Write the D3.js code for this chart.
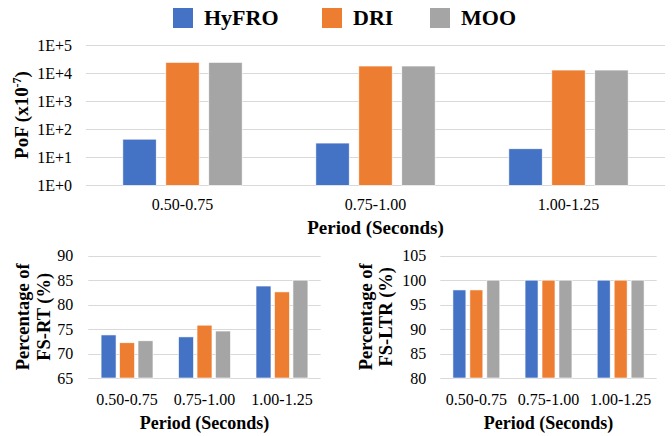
<!DOCTYPE html>
<html>
<head>
<meta charset="utf-8">
<script src="https://cdn.jsdelivr.net/npm/d3@7"></script>
<style>
  body { margin: 0; background: #fff; }
</style>
</head>
<body>
<svg id="chart" width="672" height="436"></svg>
<script>
const periods = ["0.50-0.75", "0.75-1.00", "1.00-1.25"];
const seriesNames = ["HyFRO", "DRI", "MOO"];
const colors = ["#4472c4", "#ed7d31", "#a5a5a5"];

// PoF (x10^-7), log scale
const pofHyFRO = [44, 32, 20];
const pofDRI = [24000, 17800, 12800];
const pofMOO = [24000, 17800, 12800];
const pofTicks = [1, 10, 100, 1000, 10000, 100000];

// Percentage of FS-RT
const rtHyFRO = [73.8, 73.4, 83.8];
const rtDRI = [72.2, 75.8, 82.6];
const rtMOO = [72.6, 74.6, 85.0];
const rtTicks = [65, 70, 75, 80, 85, 90];

// Percentage of FS-LTR
const ltrHyFRO = [98, 100, 100];
const ltrDRI = [98, 100, 100];
const ltrMOO = [100, 100, 100];
const ltrTicks = [80, 85, 90, 95, 100, 105];

const FONT = "'Liberation Serif', Tinos, 'Times New Roman', Times, 'DejaVu Serif', serif";
const svg = d3.select("#chart").attr("font-family", FONT);
const GRID = "#d9d9d9";

//legend
const legendX = [173, 322, 430];
seriesNames.forEach((s, i) => {
  svg.append("rect").attr("x", legendX[i]).attr("y", 8)
    .attr("width", 20).attr("height", 20).attr("fill", colors[i]);
  svg.append("text").attr("x", legendX[i] + 31).attr("y", 25)
    .attr("font-family", FONT)
    .attr("font-size", "22px").attr("font-weight", "bold").attr("fill", "#000")
    .text(s);
});

function barChart(cfg) {
  const data = cfg.series.map((vals, si) => vals.map((v, ci) => ({s: seriesNames[si], c: periods[ci], v: v, si: si})));
  const x = d3.scaleBand().domain(periods).range([cfg.x0, cfg.x1]).padding(0);
  const y = cfg.y;
  const g = svg.append("g").attr("font-family", FONT);

  // gridlines
  g.selectAll(".grid").data(cfg.ticks).enter().append("line")
    .attr("x1", cfg.x0).attr("x2", cfg.x1)
    .attr("y1", d => Math.round(y(d)) + 0.5).attr("y2", d => Math.round(y(d)) + 0.5)
    .attr("stroke", GRID).attr("stroke-width", 1);

  // tick labels
  g.selectAll(".ytick").data(cfg.ticks).enter().append("text")
    .attr("x", cfg.x0 - cfg.tickGap).attr("y", d => y(d)).attr("dy", "0.35em")
    .attr("text-anchor", "end").attr("font-size", cfg.tickSize + "px").attr("fill", "#000")
    .text(cfg.fmt);

  const gw = x.bandwidth() * cfg.groupFrac;
  periods.forEach(p => {
    const cx = x(p) + x.bandwidth() / 2;
    const inner = d3.scaleBand().domain(seriesNames).range([cx - gw / 2, cx + gw / 2])
      .paddingInner(cfg.innerPad).paddingOuter(0);
    data.forEach(ser => {
      const d = ser.find(e => e.c === p);
      g.append("rect")
        .attr("x", inner(d.s)).attr("width", inner.bandwidth())
        .attr("y", y(d.v)).attr("height", y(cfg.base) - y(d.v))
        .attr("fill", colors[d.si]).attr("stroke", "#fff").attr("stroke-width", 0.6);
    });
  });

  // category labels
  g.selectAll(".xtick").data(periods).enter().append("text")
    .attr("x", d => x(d) + x.bandwidth() / 2).attr("y", cfg.catY)
    .attr("text-anchor", "middle").attr("font-size", cfg.tickSize + "px").attr("fill", "#000")
    .text(d => d);

  g.append("text").attr("x", (cfg.x0 + cfg.x1) / 2).attr("y", cfg.titleY)
    .attr("text-anchor", "middle").attr("font-size", cfg.titleSize + "px")
    .attr("font-weight", "bold").text("Period (Seconds)");
  return g;
}

// top chart
const yPof = d3.scaleLog().domain([1, 100000]).range([185.3, 45]);
barChart({
  series: [pofHyFRO, pofDRI, pofMOO], ticks: pofTicks, y: yPof, base: 1,
  x0: 86, x1: 665, groupFrac: 0.618, innerPad: 0.224,
  tickGap: 14, tickSize: 16, catY: 210, titleY: 234, titleSize: 19,
  fmt: d => "1E+" + Math.round(Math.log10(d))
});
const pofTitle = svg.append("text")
  .attr("transform", "translate(28,115) rotate(-90)")
  .attr("font-family", FONT)
  .attr("text-anchor", "middle").attr("font-size", "19px").attr("font-weight", "bold");
pofTitle.append("tspan").text("PoF (x10");
pofTitle.append("tspan").attr("font-size", "12px").attr("dy", "-7").text("-7");
pofTitle.append("tspan").attr("dy", "7").text(")");

// bottom left
const yRt = d3.scaleLinear().domain([65, 90]).range([378, 255.7]);
barChart({
  series: [rtHyFRO, rtDRI, rtMOO], ticks: rtTicks, y: yRt, base: 65,
  x0: 88.3, x1: 320.7, groupFrac: 0.67, innerPad: 0.19,
  tickGap: 15, tickSize: 16, catY: 405, titleY: 429, titleSize: 18,
  fmt: d => d
});

// bottom right
const yLtr = d3.scaleLinear().domain([80, 105]).range([378, 255.7]);
barChart({
  series: [ltrHyFRO, ltrDRI, ltrMOO], ticks: ltrTicks, y: yLtr, base: 80,
  x0: 440.3, x1: 656.7, groupFrac: 0.65, innerPad: 0.235,
  tickGap: 14, tickSize: 16, catY: 405, titleY: 429, titleSize: 18,
  fmt: d => d
});

function twoLineTitle(cx1, cx2, cy, line1, line2) {
  [[cx1, line1], [cx2, line2]].forEach(([cx, t]) => {
    svg.append("text")
      .attr("transform", "translate(" + (cx + 6.5) + "," + cy + ") rotate(-90)")
      .attr("font-family", FONT)
      .attr("text-anchor", "middle").attr("font-size", "18.5px").attr("font-weight", "bold")
      .text(t);
  });
}
twoLineTitle(22.7, 43.3, 316.8, "Percentage of", "FS-RT (%)");
twoLineTitle(365.3, 385.3, 316.8, "Percentage of", "FS-LTR (%)");
</script>
</body>
</html>
